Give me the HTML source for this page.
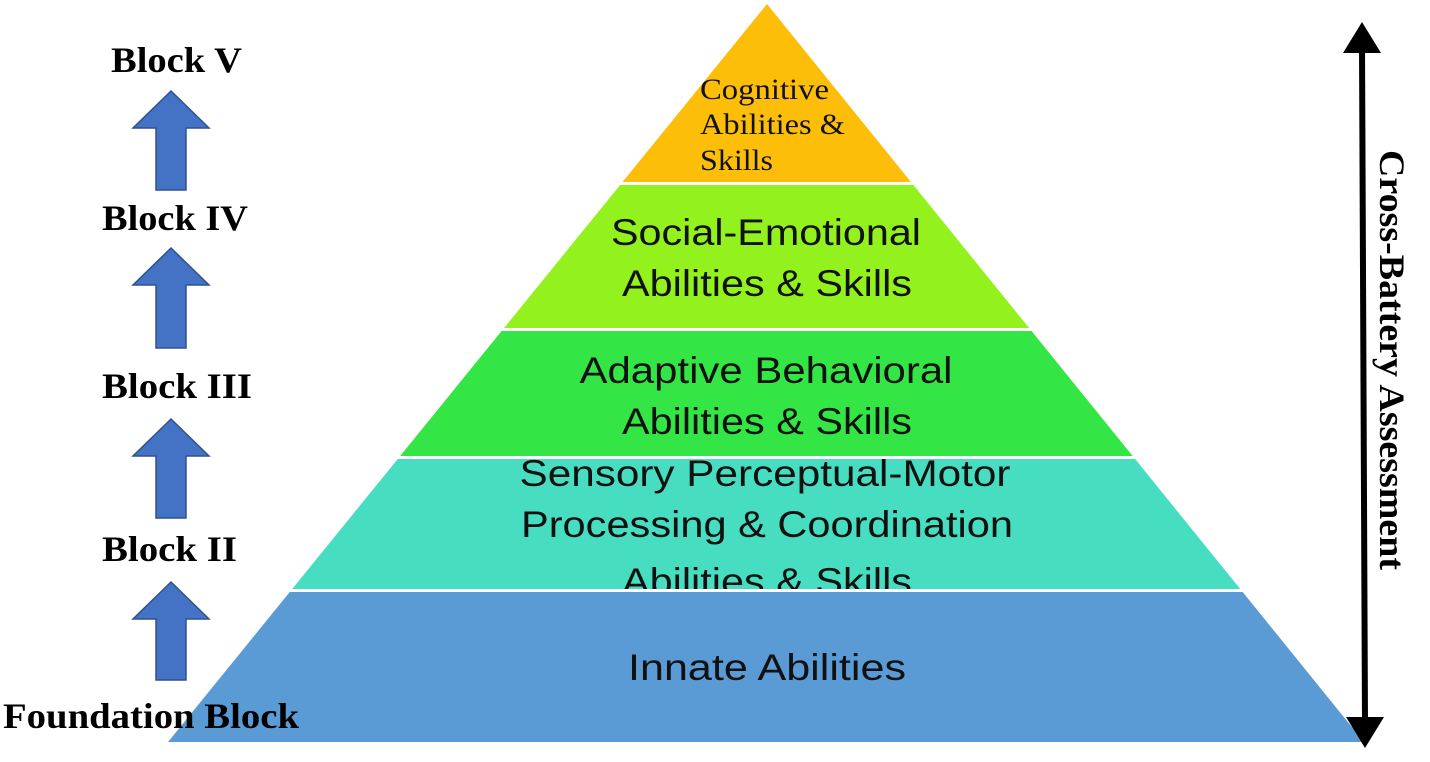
<!DOCTYPE html>
<html><head><meta charset="utf-8"><style>html,body{margin:0;padding:0;background:#fff;}svg{display:block;}</style></head>
<body>
<svg width="1430" height="762" viewBox="0 0 1430 762" xmlns="http://www.w3.org/2000/svg">
<defs>
<clipPath id="pyr"><polygon points="767,4 1364,742 168,742"/></clipPath>
</defs>
<g clip-path="url(#pyr)">
<rect x="0" y="0" width="1430" height="182" fill="#FDBE0A"/>
<rect x="0" y="185" width="1430" height="143" fill="#93F21D"/>
<rect x="0" y="331" width="1430" height="125" fill="#33E645"/>
<rect x="0" y="459" width="1430" height="130" fill="#46DDC0"/>
</g>
<g font-family="'Liberation Sans', sans-serif" font-size="37" fill="#111" text-anchor="middle">
<text x="766" y="245" textLength="310" lengthAdjust="spacingAndGlyphs">Social-Emotional</text>
<text x="767" y="296" textLength="290" lengthAdjust="spacingAndGlyphs">Abilities &amp; Skills</text>
<text x="766" y="383" textLength="373" lengthAdjust="spacingAndGlyphs">Adaptive Behavioral</text>
<text x="767" y="434" textLength="290" lengthAdjust="spacingAndGlyphs">Abilities &amp; Skills</text>
<text x="765" y="486" textLength="491" lengthAdjust="spacingAndGlyphs">Sensory Perceptual-Motor</text>
<text x="767" y="537" textLength="492" lengthAdjust="spacingAndGlyphs">Processing &amp; Coordination</text>
<text x="767" y="594" textLength="290" lengthAdjust="spacingAndGlyphs">Abilities &amp; Skills</text>
</g>
<g clip-path="url(#pyr)">
<rect x="0" y="589" width="1430" height="3" fill="#fff"/>
<rect x="0" y="592" width="1430" height="160" fill="#5B9BD5"/>
</g>
<text x="767" y="680" font-family="'Liberation Sans', sans-serif" font-size="37" fill="#111" text-anchor="middle" textLength="278" lengthAdjust="spacingAndGlyphs">Innate Abilities</text>
<g font-family="'Liberation Serif', serif" font-size="30" fill="#111">
<text x="700" y="99" textLength="129" lengthAdjust="spacingAndGlyphs">Cognitive</text>
<text x="700" y="134" textLength="145" lengthAdjust="spacingAndGlyphs">Abilities &amp;</text>
<text x="700" y="170" textLength="73" lengthAdjust="spacingAndGlyphs">Skills</text>
</g>
<g font-family="'Liberation Serif', serif" font-size="36" font-weight="bold" fill="#000">
<text x="111" y="72" textLength="131" lengthAdjust="spacingAndGlyphs">Block V</text>
<text x="102" y="230" textLength="146" lengthAdjust="spacingAndGlyphs">Block IV</text>
<text x="102" y="398" textLength="150" lengthAdjust="spacingAndGlyphs">Block III</text>
<text x="102" y="561" textLength="135" lengthAdjust="spacingAndGlyphs">Block II</text>
<text x="3" y="728" textLength="296" lengthAdjust="spacingAndGlyphs">Foundation Block</text>
</g>
<g fill="#4472C4" stroke="#2F528F" stroke-width="1.5">
<polygon points="171,91 209,128 186,128 186,190 156,190 156,128 133,128"/>
<polygon points="171,248 209,285 186,285 186,348 156,348 156,285 133,285"/>
<polygon points="171,419 209,456 186,456 186,518 156,518 156,456 133,456"/>
<polygon points="171,582 209,619 186,619 186,680 156,680 156,619 133,619"/>
</g>
<line x1="1362" y1="45" x2="1365" y2="725" stroke="#000" stroke-width="6"/>
<polygon points="1362,22 1381,53 1343,53" fill="#000"/>
<polygon points="1365,748 1346,717 1384,717" fill="#000"/>
<text transform="translate(1380,360) rotate(90)" font-family="'Liberation Serif', serif" font-size="36" font-weight="bold" fill="#000" text-anchor="middle" textLength="420" lengthAdjust="spacingAndGlyphs">Cross-Battery Assessment</text>
</svg>
</body></html>
